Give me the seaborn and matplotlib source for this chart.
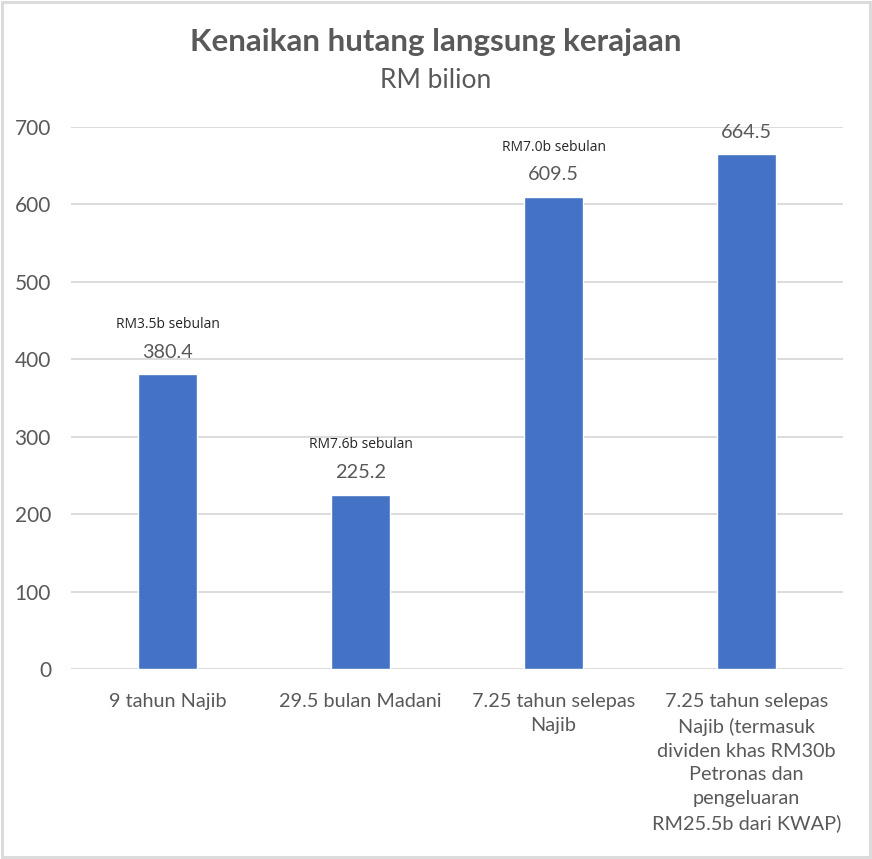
import matplotlib
matplotlib.use("Agg")
import matplotlib.pyplot as plt
import seaborn as sns
import pandas as pd
from matplotlib.patches import Rectangle

categories = [
    "9 tahun Najib",
    "29.5 bulan Madani",
    "7.25 tahun selepas\nNajib",
    "7.25 tahun selepas\nNajib (termasuk\ndividen khas RM30b\nPetronas dan\npengeluaran\nRM25.5b dari KWAP)",
]
values = [380.4, 225.2, 609.5, 664.5]
value_labels = ["380.4", "225.2", "609.5", "664.5"]
notes = ["RM3.5b sebulan", "RM7.6b sebulan", "RM7.0b sebulan", ""]
yticks = [0, 100, 200, 300, 400, 500, 600, 700]

sns.set_theme(style="white")
plt.rcParams["font.family"] = ["Lato", "DejaVu Sans"]

GRAY = "#595959"
BLUE = "#4472C4"

fig = plt.figure(figsize=(8.72, 8.59), dpi=100)
ax = fig.add_axes([71 / 872, 1 - 669 / 859, (843 - 71) / 872, (669 - 127) / 859])

df = pd.DataFrame({"cat": categories, "val": values})
sns.barplot(data=df, x="cat", y="val", color=BLUE, saturation=1, width=0.31, ax=ax)

ax.set_ylim(0, 700)
ax.set_xlim(-0.5, 3.5)
ax.set_yticks(yticks)
ax.set_yticklabels([str(t) for t in yticks], fontsize=15, color=GRAY)
ax.set_xlabel("")
ax.set_ylabel("")
ax.tick_params(axis="x", length=0, pad=17.5, labelsize=14.3, labelcolor=GRAY)
ax.tick_params(axis="y", length=0, pad=14.4)
for lbl in ax.get_xticklabels():
    lbl.set_linespacing(1.49)
    lbl.set_verticalalignment("top")
ax.grid(axis="y", color="#D9D9D9", linewidth=1.3)
ax.set_axisbelow(True)
for s in ax.spines.values():
    s.set_visible(False)

for i, (p, v, lab, note) in enumerate(zip(ax.patches, values, value_labels, notes)):
    cx = p.get_x() + p.get_width() / 2
    ax.annotate(lab, (cx, v), xytext=(0, 16), textcoords="offset points",
                ha="center", va="center", fontsize=14.3, color=GRAY)
    if note:
        ax.annotate(note, (cx, v), xytext=(0, 36), textcoords="offset points",
                    ha="center", va="center", fontsize=10, color="#262626",
                    family=["Open Sans", "DejaVu Sans"])

fig.text(0.5, 1 - 42 / 859, "Kenaikan hutang langsung kerajaan", ha="center", va="center",
         fontsize=22.5, fontweight="bold", color=GRAY)
fig.text(0.5, 1 - 80 / 859, "RM bilion", ha="center", va="center",
         fontsize=19, color=GRAY)

fig.patches.append(Rectangle((0.002, 0.002), 0.996, 0.996, transform=fig.transFigure,
                             fill=False, edgecolor="#D9D9D9", linewidth=2))

fig.savefig("out.png", dpi=100)
